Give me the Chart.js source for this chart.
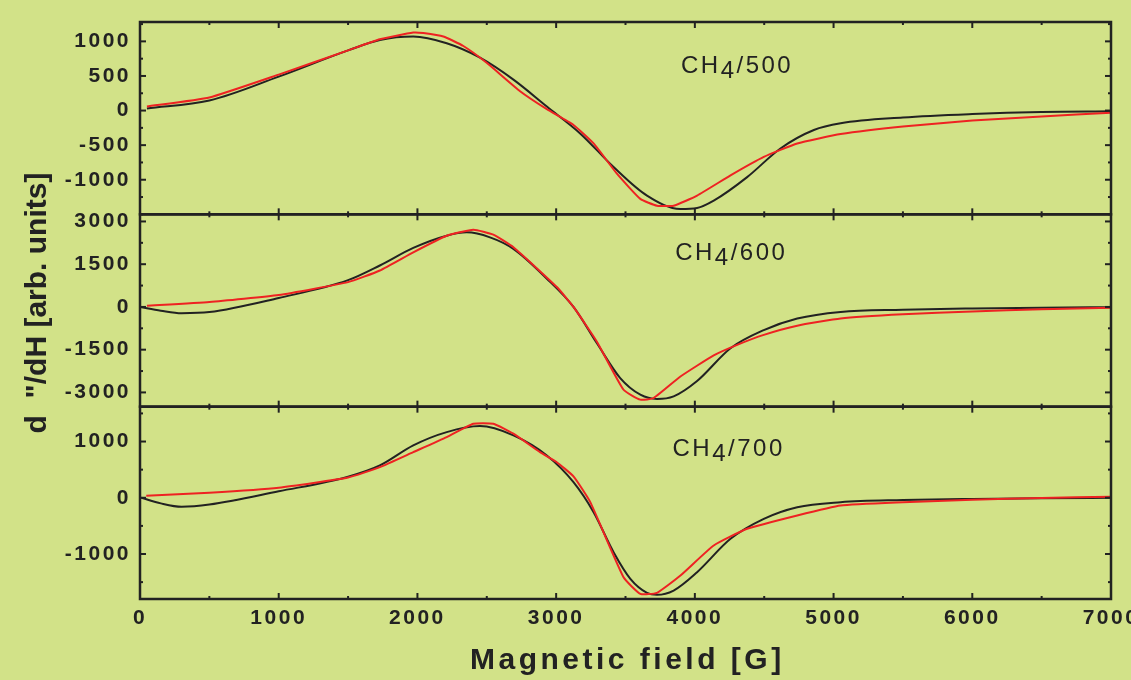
<!DOCTYPE html>
<html>
<head>
<meta charset="utf-8">
<title>ESR CH4</title>
<script src="https://cdn.jsdelivr.net/npm/chart.js@4.4.1/dist/chart.umd.min.js"></script>
<style>
  html, body { margin: 0; padding: 0; background: #d2e288; }
  canvas { display: block; }
</style>
</head>
<body>
<canvas id="esrChart" width="1131" height="680"></canvas>
<script>
// field axis (G)
const fieldTicks = [0, 1000, 2000, 3000, 4000, 5000, 6000, 7000];

// CH4/500
const fieldBlack500 = [50, 500, 1000, 1500, 1729, 1970, 2211, 2451, 2692, 2933, 3173, 3414, 3655, 3895, 4016, 4136, 4377, 4617, 4858, 5051, 5500, 6000, 6500, 7000];
const black500 = [30, 145, 490, 870, 1020, 1070, 972, 764, 447, 58, -330, -816, -1229, -1423, -1408, -1302, -962, -548, -281, -184, -100, -50, -20, -10];
const fieldRed500 = [50, 500, 1000, 1500, 1729, 1970, 2043, 2187, 2331, 2499, 2740, 2933, 3125, 3270, 3438, 3607, 3727, 3847, 4016, 4257, 4497, 4738, 5051, 5500, 6000, 6500, 7000];
const red500 = [60, 190, 520, 870, 1030, 1128, 1120, 1070, 933, 690, 280, 20, -208, -475, -912, -1277, -1375, -1375, -1229, -937, -670, -475, -340, -230, -145, -85, -30];
const ticks500 = [-1000, -500, 0, 500, 1000];

// CH4/600
const fieldBlack600 = [0, 150, 300, 500, 1000, 1500, 1729, 1970, 2211, 2355, 2523, 2692, 2933, 3125, 3294, 3462, 3607, 3727, 3847, 4016, 4257, 4497, 4738, 5051, 5500, 6000, 6500, 7000];
const black600 = [0, -130, -220, -180, 315, 940, 1455, 2072, 2500, 2617, 2442, 2036, 990, 0, -1277, -2498, -3080, -3230, -3139, -2600, -1450, -813, -405, -174, -100, -55, -25, -10];
const fieldRed600 = [50, 500, 1000, 1500, 1729, 1970, 2211, 2403, 2547, 2692, 3005, 3125, 3294, 3486, 3607, 3703, 3896, 4136, 4305, 4497, 4738, 5051, 5500, 6000, 6500, 7000];
const red600 = [45, 175, 420, 870, 1280, 1918, 2500, 2710, 2536, 2093, 698, 0, -1220, -2906, -3254, -3196, -2442, -1700, -1330, -980, -660, -405, -260, -160, -80, -25];
const ticks600 = [-3000, -1500, 0, 1500, 3000];

// CH4/700
const fieldBlack700 = [10, 150, 300, 500, 1000, 1500, 1729, 1970, 2211, 2451, 2692, 2933, 3125, 3270, 3414, 3535, 3655, 3727, 3847, 4016, 4257, 4497, 4738, 5051, 5500, 6000, 6500, 7000];
const black700 = [0, -100, -160, -120, 115, 375, 575, 931, 1167, 1274, 1109, 753, 278, -256, -968, -1441, -1690, -1726, -1650, -1324, -730, -374, -167, -78, -40, -20, -8, 0];
const fieldRed700 = [45, 500, 1000, 1500, 1729, 1970, 2211, 2403, 2547, 2692, 2884, 3000, 3125, 3246, 3486, 3607, 3727, 3896, 4136, 4377, 4738, 5051, 5500, 6000, 6500, 7000];
const red700 = [35, 90, 180, 360, 545, 811, 1078, 1317, 1317, 1139, 811, 640, 380, -78, -1413, -1708, -1690, -1383, -849, -552, -315, -137, -80, -35, -5, 20];
const ticks700 = [-1000, 0, 1000];

const sampleNames = ["500", "600", "700"];

const ink = "#222222";
const redLine = "#ee2222";
const fontFamily = "'Liberation Sans', Arial, sans-serif";

const panels = [
  { id: "p1", min: -1500, max: 1280, ticks: ticks500, labelAt: [3900, 545] },
  { id: "p2", min: -3500, max: 3250, ticks: ticks600, labelAt: [3858, 1653] },
  { id: "p3", min: -1800, max: 1620, ticks: ticks700, labelAt: [3839, 735] },
];

function pts(xs, ys) {
  return xs.map((x, i) => ({ x: x, y: ys[i] }));
}

function lineSet(data, axis, color, smooth) {
  return {
    data: data,
    yAxisID: axis,
    borderColor: color,
    borderWidth: 2,
    pointRadius: 0,
    tension: smooth ? 0.4 : 0.15,
    cubicInterpolationMode: smooth ? "monotone" : "default",
  };
}

const tickFont = { family: fontFamily, size: 21, weight: "bold" };

const yScale = (p, weight) => ({
  type: "linear",
  position: "left",
  stack: "panels",
  stackWeight: 1,
  weight: weight,
  min: p.min,
  max: p.max,
  grid: { display: false, drawTicks: false },
  border: { display: false },
  ticks: {
    color: ink,
    padding: 9,
    autoSkip: false,
    font: tickFont,
    callback: (v) => String(v),
  },
  afterBuildTicks: (scale) => {
    scale.ticks = p.ticks.map((v) => ({ value: v }));
  },
  afterFit: (scale) => {
    scale.width = 140;
    scale.paddingTop = 0;
    scale.paddingBottom = 0;
  },
});

const frame = {
  id: "frame",
  beforeDraw(chart) {
    chart.ctx.letterSpacing = "2.5px";
  },
  afterDraw(chart) {
    const { ctx, chartArea: a, scales } = chart;
    const xs = scales.x;
    ctx.save();
    ctx.strokeStyle = ink;
    ctx.lineWidth = 2;
    const seg = (x1, y1, x2, y2) => {
      ctx.beginPath();
      ctx.moveTo(x1, y1);
      ctx.lineTo(x2, y2);
      ctx.stroke();
    };
    panels.forEach((p) => {
      const ys = scales[p.id];
      for (let v = 0; v <= 7000; v += 500) {
        const px = xs.getPixelForValue(v);
        const len = v % 1000 ? 3 : 6;
        seg(px, ys.top, px, ys.top + len);
        seg(px, ys.bottom, px, ys.bottom - len);
      }
      const step = (p.ticks[1] - p.ticks[0]) / 2;
      for (let v = Math.ceil(p.min / step) * step; v <= p.max; v += step) {
        const py = ys.getPixelForValue(v);
        const len = p.ticks.includes(v) ? 6 : 3;
        seg(a.left, py, a.left + len, py);
        seg(a.right, py, a.right - len, py);
      }
    });
    ctx.lineWidth = 2.5;
    panels.forEach((p) => {
      const ys = scales[p.id];
      ctx.strokeRect(a.left, ys.top, a.right - a.left, ys.bottom - ys.top);
    });

    // sample labels CH4/T
    ctx.fillStyle = ink;
    ctx.font = "24px " + fontFamily;
    ctx.letterSpacing = "2.5px";
    ctx.textAlign = "left";
    ctx.textBaseline = "alphabetic";
    panels.forEach((p, i) => {
      let x = xs.getPixelForValue(p.labelAt[0]);
      const y = scales[p.id].getPixelForValue(p.labelAt[1]);
      ctx.fillText("CH", x, y);
      x += ctx.measureText("CH").width;
      ctx.fillText("4", x, y + 5);
      x += ctx.measureText("4").width;
      ctx.fillText("/" + sampleNames[i], x, y);
    });

    // axis titles
    ctx.font = "bold 30px " + fontFamily;
    ctx.letterSpacing = "3.5px";
    ctx.fillText("Magnetic field [G]", 470, 669);

    ctx.letterSpacing = "0px";
    ctx.translate(38, 303);
    ctx.rotate(-Math.PI / 2);
    ctx.textAlign = "center";
    ctx.textBaseline = "middle";
    ctx.fillText("d  \"/dH [arb. units]", 0, 0);
    ctx.restore();
  },
};

new Chart(document.getElementById("esrChart"), {
  type: "line",
  data: {
    datasets: [
      lineSet(pts(fieldRed500, red500), "p1", redLine, false),
      lineSet(pts(fieldBlack500, black500), "p1", ink, true),
      lineSet(pts(fieldRed600, red600), "p2", redLine, false),
      lineSet(pts(fieldBlack600, black600), "p2", ink, true),
      lineSet(pts(fieldRed700, red700), "p3", redLine, false),
      lineSet(pts(fieldBlack700, black700), "p3", ink, true),
    ],
  },
  options: {
    responsive: false,
    animation: false,
    layout: { padding: { top: 22, right: 20, left: 0, bottom: 0 } },
    plugins: { legend: { display: false }, tooltip: { enabled: false } },
    scales: {
      x: {
        type: "linear",
        position: "bottom",
        min: 0,
        max: 7000,
        grid: { display: false, drawTicks: false },
        border: { display: false },
        ticks: {
          color: ink,
          padding: 7,
          maxRotation: 0,
          autoSkip: false,
          font: tickFont,
          callback: (v) => String(v),
        },
        afterBuildTicks: (scale) => {
          scale.ticks = fieldTicks.map((v) => ({ value: v }));
        },
        afterFit: (scale) => {
          scale.height = 81;
          scale.paddingLeft = 0;
          scale.paddingRight = 0;
        },
      },
      p1: yScale(panels[0], 3),
      p2: yScale(panels[1], 2),
      p3: yScale(panels[2], 1),
    },
  },
  plugins: [frame],
});
</script>
</body>
</html>
